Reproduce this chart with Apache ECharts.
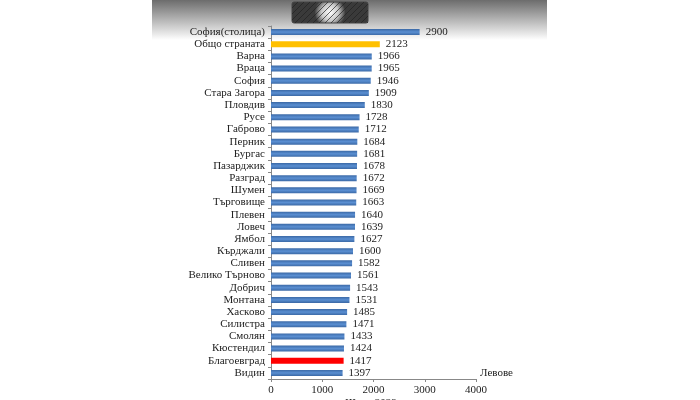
<!DOCTYPE html>
<html>
<head>
<meta charset="utf-8">
<script src="https://cdn.jsdelivr.net/npm/echarts@6/dist/echarts.min.js"></script>
<style>
    html, body { margin: 0; padding: 0; background: #fff; }
    #cn { width: 700px; height: 400px; }
</style>
</head>
<body>
<div id="cn"></div>
<script>
'use strict';

const arrRegion = ['София(столица)', 'Общо страната', 'Варна', 'Враца', 'София', 'Стара Загора',
    'Пловдив', 'Русе', 'Габрово', 'Перник', 'Бургас', 'Пазарджик', 'Разград', 'Шумен',
    'Търговище', 'Плевен', 'Ловеч', 'Ямбол', 'Кърджали', 'Сливен', 'Велико Търново',
    'Добрич', 'Монтана', 'Хасково', 'Силистра', 'Смолян', 'Кюстендил', 'Благоевград', 'Видин'];

const arrSalary = [2900, 2123, 1966, 1965, 1946, 1909, 1830, 1728, 1712, 1684, 1681, 1678,
    1672, 1669, 1663, 1640, 1639, 1627, 1600, 1582, 1561, 1543, 1531, 1485, 1471, 1433,
    1424, 1417, 1397];

const arrTick = [0, 1000, 2000, 3000, 4000];

const strFont = '"Liberation Serif", "DejaVu Serif", serif';

const blueBar = new echarts.graphic.LinearGradient(0, 0, 0, 1, [
    { offset: 0, color: '#3b69a6' },
    { offset: 0.5, color: '#5a8fd2' },
    { offset: 1, color: '#3b69a6' }
]);

const barColor = (name) => {
    if (name === 'Общо страната') return '#ffc000';
    if (name === 'Благоевград') return '#ff0000';
    return blueBar;
}

// decorative hatched box at the top (the image header)
const hatchLines = (x0, y0, w, h, step) => {
    let result = [];
    for (let k = -h; k < w; k += step) {
        let xa = x0 + k, ya = y0 + h;
        let xb = x0 + k + h, yb = y0;
        if (xa < x0) { ya = y0 + h - (x0 - xa); xa = x0; }
        if (xb > x0 + w) { yb = y0 + (xb - (x0 + w)); xb = x0 + w; }
        result.push({
            type: 'line',
            shape: { x1: xa, y1: ya, x2: xb, y2: yb },
            style: { stroke: '#222', lineWidth: 0.7 },
            z: -4
        });
    }
    return result;
}

const optionChart = {
    animation: false,
    backgroundColor: '#fff',
    graphic: [{
            type: 'rect',
            shape: { x: 152, y: 0, width: 395, height: 40 },
            style: {
                fill: new echarts.graphic.LinearGradient(0, 0, 0, 1, [
                    { offset: 0, color: '#6c6c6c' },
                    { offset: 1, color: '#ffffff' }
                ])
            },
            z: -10
        },
        {
            type: 'rect',
            shape: { x: 292, y: 2, width: 76, height: 21, r: 2 },
            style: {
                fill: new echarts.graphic.RadialGradient(0.5, 0.5, 0.7, [
                    { offset: 0, color: '#ffffff' },
                    { offset: 0.55, color: '#c8c8c8' },
                    { offset: 1, color: '#3a3a3a' }
                ]),
                stroke: '#444',
                lineWidth: 1
            },
            z: -5
        },
        ...hatchLines(292, 2, 76, 21, 6),
        {
            type: 'text',
            left: 345,
            top: 398,
            style: {
                text: 'III тр. 2022',
                font: '11px ' + strFont,
                fill: '#222'
            }
        }
    ],
    grid: {
        left: 271,
        right: 224,
        top: 26,
        bottom: 21,
        containLabel: false
    },
    xAxis: {
        type: 'value',
        min: 0,
        max: 4000,
        interval: 1000,
        name: 'Левове',
        nameLocation: 'end',
        nameGap: 4,
        nameTextStyle: {
            color: '#222',
            fontFamily: strFont,
            fontSize: 11,
            align: 'left',
            verticalAlign: 'bottom'
        },
        axisLine: {
            show: true,
            lineStyle: { color: '#888', width: 1 }
        },
        axisTick: {
            show: true,
            length: 3,
            lineStyle: { color: '#888' }
        },
        splitLine: { show: false },
        axisLabel: {
            color: '#222',
            fontFamily: strFont,
            fontSize: 11,
            margin: 6,
            formatter: (v) => arrTick.includes(v) ? String(v) : ''
        }
    },
    yAxis: {
        type: 'category',
        inverse: true,
        data: arrRegion,
        axisLine: {
            show: true,
            lineStyle: { color: '#888', width: 1 }
        },
        axisTick: {
            show: true,
            interval: 0,
            length: 3,
            lineStyle: { color: '#888' }
        },
        axisLabel: {
            interval: 0,
            color: '#222',
            fontFamily: strFont,
            fontSize: 11,
            margin: 6
        }
    },
    series: [{
        type: 'bar',
        barWidth: 6,
        data: arrSalary.map((v, i) => ({
            value: v,
            itemStyle: { color: barColor(arrRegion[i]) }
        })),
        label: {
            show: true,
            position: 'right',
            distance: 6,
            color: '#222',
            fontFamily: strFont,
            fontSize: 11
        }
    }]
}

const echartsPanda = echarts.init(document.getElementById('cn'));
echartsPanda.setOption(optionChart);
</script>
</body>
</html>
